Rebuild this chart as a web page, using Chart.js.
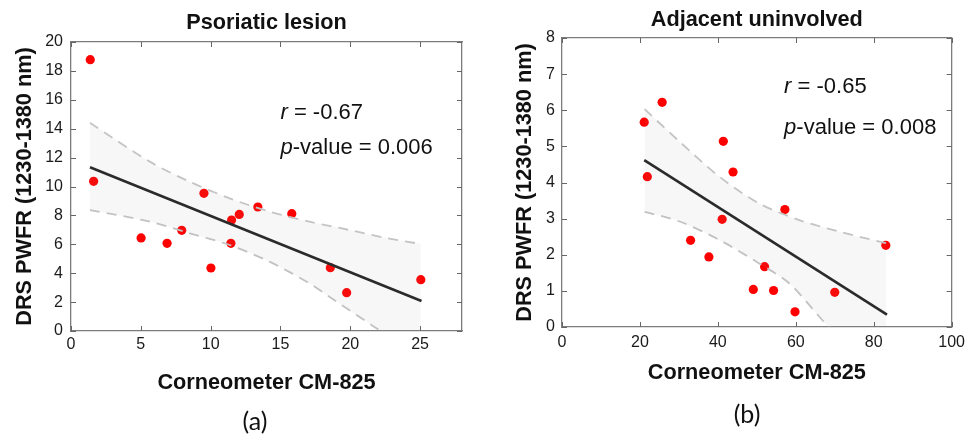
<!DOCTYPE html>
<html>
<head>
<meta charset="utf-8">
<script src="https://cdn.jsdelivr.net/npm/chart.js@4.4.1/dist/chart.umd.min.js"></script>
<style>
  html, body { margin: 0; padding: 0; background: #fff; }
  #wrap { position: relative; width: 971px; height: 437px; }
  #c1 { position: absolute; left: 0; top: 0; }
  #c2 { position: absolute; left: 485px; top: 0; }
</style>
</head>
<body>
<div id="wrap">
  <canvas id="c1" width="485" height="437"></canvas>
  <canvas id="c2" width="486" height="437"></canvas>
</div>
<script>
// (a) Psoriatic lesion
const lesionX = [1.38, 1.62, 5.02, 6.88, 7.93, 9.52, 10.02, 11.45, 11.5, 12.05, 13.38, 15.81, 18.57, 19.74, 25.05];
const lesionY = [18.78, 10.36, 6.44, 6.07, 6.97, 9.53, 4.36, 6.07, 7.68, 8.07, 8.58, 8.12, 4.38, 2.65, 3.55];
const lesionFitX = [1.36, 25.1];
const lesionFitY = [11.33, 2.08];
const lesionUpperX = [1.36, 5.64, 8.5, 11.36, 14.21, 17.07, 19.93, 22.5, 25.05];
const lesionUpperY = [14.41, 11.72, 10.33, 9.18, 8.26, 7.57, 6.99, 6.45, 6.02];
const lesionLowerX = [1.36, 5.64, 8.5, 11.36, 14.21, 17.07, 18.5, 21.7, 25.05];
const lesionLowerY = [8.37, 7.57, 6.76, 5.95, 4.8, 3.3, 2.37, 0.3, -1.86];

// (b) Adjacent uninvolved
const adjX = [21.1, 21.9, 25.7, 33.0, 37.7, 41.1, 41.4, 43.9, 49.1, 52.0, 54.3, 57.2, 59.8, 70.0, 83.1];
const adjY = [5.67, 4.16, 6.22, 2.40, 1.94, 2.98, 5.14, 4.29, 1.04, 1.67, 1.01, 3.25, 0.42, 0.96, 2.26];
const adjFitX = [21.1, 83.4];
const adjFitY = [4.62, 0.34];
const adjUpperX = [21.2, 30.2, 40.4, 50.6, 60.9, 71.1, 83.2];
const adjUpperY = [6.03, 5.13, 4.16, 3.42, 2.96, 2.64, 2.32];
const adjLowerX = [21.2, 30.2, 40.4, 50.6, 58.3, 66.0, 68.4, 83.2];
const adjLowerY = [3.19, 2.92, 2.41, 1.76, 1.21, 0.29, 0.0, -1.64];

const FONT = "'Liberation Sans', Arial, sans-serif";
const BOLD = 21.7;
const LH = BOLD * 1.2;

function toPoints(xs, ys) {
  return xs.map((x, i) => ({ x: x, y: ys[i] }));
}

// 内向きの目盛り線
const innerTicks = {
  id: 'innerTicks',
  afterDraw(chart) {
    const ctx = chart.ctx;
    const a = chart.chartArea;
    const len = 5;
    ctx.save();
    ctx.strokeStyle = '#666';
    ctx.lineWidth = 1;
    ctx.beginPath();
    chart.scales.x.ticks.forEach(t => {
      const px = Math.round(chart.scales.x.getPixelForValue(t.value)) + 0.5;
      ctx.moveTo(px, a.bottom); ctx.lineTo(px, a.bottom - len);
      ctx.moveTo(px, a.top); ctx.lineTo(px, a.top + len);
    });
    chart.scales.y.ticks.forEach(t => {
      const py = Math.round(chart.scales.y.getPixelForValue(t.value)) + 0.5;
      ctx.moveTo(a.left, py); ctx.lineTo(a.left + len, py);
      ctx.moveTo(a.right, py); ctx.lineTo(a.right - len, py);
    });
    ctx.stroke();
    ctx.restore();
  }
};

// 相関係数などの注釈と (a)/(b) を描く
const notePlugin = {
  id: 'notes',
  afterDatasetsDraw(chart, args, opts) {
    const ctx = chart.ctx;
    const sx = chart.scales.x;
    const sy = chart.scales.y;
    ctx.save();
    ctx.fillStyle = '#111';
    ctx.textBaseline = 'middle';
    ctx.textAlign = 'left';
    opts.lines.forEach(line => {
      let px = sx.getPixelForValue(opts.atX);
      const py = sy.getPixelForValue(line.y);
      ctx.font = 'italic 22px ' + FONT;
      ctx.fillText(line.it, px, py);
      px += ctx.measureText(line.it).width;
      ctx.font = '22px ' + FONT;
      ctx.fillText(line.rest, px, py);
    });
    ctx.font = '25px Lato, sans-serif';
    ctx.textAlign = 'center';
    ctx.fillText(opts.tag, opts.tagX, opts.tagY);
    ctx.restore();
  }
};

function makeChart(id, cfg) {
  const tickFont = { family: FONT, size: 16 };
  const frame = { color: '#7c7c7c', width: 1.3 };
  const grid = { drawOnChartArea: false, drawTicks: false };
  return new Chart(document.getElementById(id), {
    type: 'scatter',
    data: {
      datasets: [
        {
          data: toPoints(cfg.upperX, cfg.upperY),
          showLine: true,
          borderColor: '#c4c4c4',
          borderWidth: 1.8,
          borderDash: [10, 7],
          pointRadius: 0,
          tension: 0.3,
          fill: '+1',
          backgroundColor: 'rgba(150,150,150,0.08)',
          order: 2
        },
        {
          data: toPoints(cfg.lowerX, cfg.lowerY),
          showLine: true,
          borderColor: '#c4c4c4',
          borderWidth: 1.8,
          borderDash: [10, 7],
          pointRadius: 0,
          tension: 0.3,
          fill: false,
          order: 2
        },
        {
          data: toPoints(cfg.fitX, cfg.fitY),
          showLine: true,
          borderColor: '#2b2b2b',
          borderWidth: 2.6,
          pointRadius: 0,
          order: 1
        },
        {
          data: toPoints(cfg.x, cfg.y),
          pointRadius: 4.6,
          pointBackgroundColor: '#ff0000',
          pointBorderWidth: 0,
          order: 3
        }
      ]
    },
    options: {
      responsive: false,
      animation: false,
      devicePixelRatio: 1,
      layout: { padding: { left: 0, right: cfg.padRight, top: 0, bottom: 0 } },
      plugins: {
        legend: { display: false },
        tooltip: { enabled: false },
        title: {
          display: true,
          fullSize: false,
          text: cfg.title,
          color: '#111',
          font: { family: FONT, size: BOLD, weight: 'bold' },
          padding: { top: cfg.titleY - LH / 2, bottom: cfg.top - (cfg.titleY - LH / 2) - LH }
        },
        notes: { atX: cfg.noteX, lines: cfg.notes, tag: cfg.tag, tagX: cfg.tagX, tagY: cfg.tagY }
      },
      scales: {
        x: {
          type: 'linear',
          position: 'bottom',
          min: 0,
          max: cfg.xMax,
          border: frame,
          grid: grid,
          ticks: { stepSize: cfg.xStep, includeBounds: false, font: tickFont, color: '#1a1a1a', padding: cfg.xTickPad, maxRotation: 0 },
          title: {
            display: true,
            text: 'Corneometer CM-825',
            color: '#111',
            font: { family: FONT, size: BOLD, weight: 'bold' },
            padding: { top: 0, bottom: cfg.xTitleBottom }
          },
          afterFit: s => { s.height = cfg.xAxisH; }
        },
        x2: {
          type: 'linear',
          position: 'top',
          min: 0,
          max: cfg.xMax,
          border: frame,
          grid: grid,
          ticks: { display: false },
          afterFit: s => { s.height = 0; }
        },
        y: {
          type: 'linear',
          position: 'left',
          min: 0,
          max: cfg.yMax,
          border: frame,
          grid: grid,
          ticks: { stepSize: cfg.yStep, font: tickFont, color: '#1a1a1a', padding: cfg.yTickPad },
          title: {
            display: true,
            text: 'DRS PWFR (1230-1380 nm)',
            color: '#111',
            font: { family: FONT, size: BOLD, weight: 'bold' },
            padding: { top: cfg.yTitleX - LH / 2, bottom: 0 }
          },
          afterFit: s => { s.width = cfg.yAxisW; }
        },
        y2: {
          type: 'linear',
          position: 'right',
          min: 0,
          max: cfg.yMax,
          border: frame,
          grid: grid,
          ticks: { display: false },
          afterFit: s => { s.width = 0; }
        }
      }
    },
    plugins: [notePlugin, innerTicks]
  });
}

makeChart('c1', {
  title: 'Psoriatic lesion',
  x: lesionX, y: lesionY,
  fitX: lesionFitX, fitY: lesionFitY,
  upperX: lesionUpperX, upperY: lesionUpperY,
  lowerX: lesionLowerX, lowerY: lesionLowerY,
  xMax: 28, xStep: 5, yMax: 20, yStep: 2,
  top: 42, titleY: 23, padRight: 23,
  xAxisH: 106, xTitleBottom: 437 - 383 - LH / 2, xTickPad: 4,
  yAxisW: 71, yTitleX: 25, yTickPad: 8,
  noteX: 15.0,
  notes: [{ it: 'r', rest: ' = -0.67', y: 15.1 }, { it: 'p', rest: '-value = 0.006', y: 12.7 }],
  tag: '(a)', tagX: 255, tagY: 422
});

makeChart('c2', {
  title: 'Adjacent uninvolved',
  x: adjX, y: adjY,
  fitX: adjFitX, fitY: adjFitY,
  upperX: adjUpperX, upperY: adjUpperY,
  lowerX: adjLowerX, lowerY: adjLowerY,
  xMax: 100, xStep: 20, yMax: 8, yStep: 1,
  top: 38, titleY: 20, padRight: 18,
  xAxisH: 110, xTitleBottom: 437 - 373 - LH / 2, xTickPad: 6,
  yAxisW: 77, yTitleX: 40, yTickPad: 7,
  noteX: 57.0,
  notes: [{ it: 'r', rest: ' = -0.65', y: 6.64 }, { it: 'p', rest: '-value = 0.008', y: 5.51 }],
  tag: '(b)', tagX: 262, tagY: 415
});
</script>
</body>
</html>
